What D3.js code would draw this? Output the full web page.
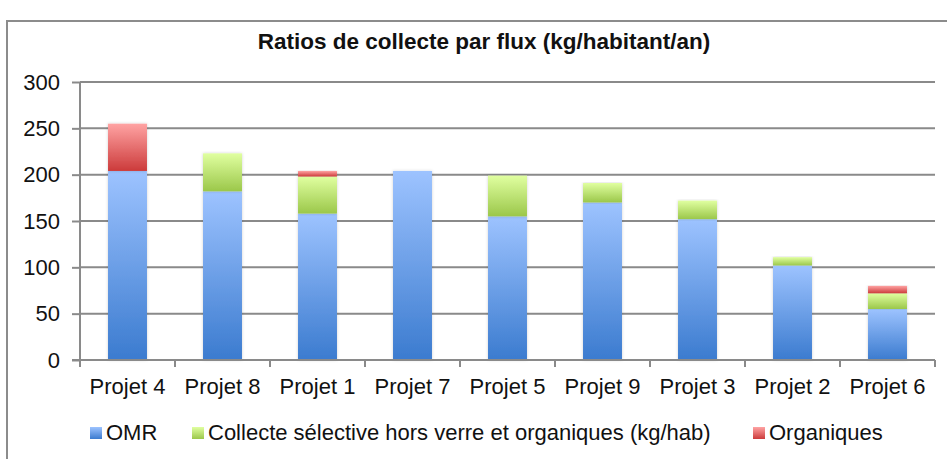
<!DOCTYPE html>
<html>
<head>
<meta charset="utf-8">
<title>Ratios de collecte par flux</title>
<script src="https://d3js.org/d3.v7.min.js"></script>
<style>
  body { margin: 0; background: #fff; }
  svg { display: block; font-family: "Liberation Sans", Arial, sans-serif; }
  .grid line { stroke: #8a8a8a; stroke-width: 2px; }
  .axis path, .axis line { stroke: #8a8a8a; stroke-width: 2px; }
  .axis text { fill: #111; font-size: 22px; }
</style>
</head>
<body>
<script>
// categories and series (kg/habitant/an)
var categories = ["Projet 4", "Projet 8", "Projet 1", "Projet 7", "Projet 5", "Projet 9", "Projet 3", "Projet 2", "Projet 6"];
var omr        = [204, 182, 158, 204, 155, 170, 152, 102, 55];
var collecte   = [0, 41, 40, 0, 44, 21, 20, 9, 17];
var organiques = [51, 0, 6, 0, 0, 0, 0, 0, 8];
var seriesNames = ["OMR", "Collecte sélective hors verre et organiques (kg/hab)", "Organiques"];
var yTicks = [0, 50, 100, 150, 200, 250, 300];

var width = 947, height = 459;
var margin = {top: 82, right: 12, bottom: 99, left: 80};

var svg = d3.select("body").append("svg")
    .attr("width", width)
    .attr("height", height);

// gradients like the office chart fills
var fills = [
  {id: "gBlue", top: "#9dc3ff", bottom: "#3b7bcf"},
  {id: "gGreen", top: "#e0ffa0", bottom: "#9bc74a"},
  {id: "gRed", top: "#ffa3a3", bottom: "#cc3b3b"}
];
var defs = svg.append("defs");
fills.forEach(function(f) {
  var g = defs.append("linearGradient").attr("id", f.id)
      .attr("x1", 0).attr("y1", 0).attr("x2", 0).attr("y2", 1);
  g.append("stop").attr("offset", "0%").attr("stop-color", f.top);
  g.append("stop").attr("offset", "100%").attr("stop-color", f.bottom);
});
var shadow = defs.append("filter").attr("id", "shadow")
    .attr("x", "-20%").attr("y", "-5%").attr("width", "140%").attr("height", "110%");
shadow.append("feDropShadow").attr("dx", 0).attr("dy", 0).attr("stdDeviation", 1.5)
    .attr("flood-color", "#000").attr("flood-opacity", 0.18);

// outer frame
svg.append("rect")
    .attr("x", 7).attr("y", 21)
    .attr("width", width + 20).attr("height", height + 20)
    .attr("fill", "none").attr("stroke", "#8c8c8c").attr("stroke-width", 2);

// title
svg.append("text")
    .attr("x", 484).attr("y", 49)
    .attr("text-anchor", "middle")
    .style("font-size", "22.5px").style("font-weight", "bold").style("fill", "#111")
    .text("Ratios de collecte par flux (kg/habitant/an)");

var x = d3.scaleBand().domain(categories)
    .range([margin.left, width - margin.right])
    .paddingInner(0.59).paddingOuter(0.295);
var y = d3.scaleLinear().domain([0, 300]).range([height - margin.bottom, margin.top]);

// horizontal gridlines
svg.append("g").attr("class", "grid")
  .selectAll("line").data(yTicks.slice(1)).enter().append("line")
    .attr("x1", margin.left).attr("x2", width - margin.right)
    .attr("y1", function(d) { return y(d); }).attr("y2", function(d) { return y(d); });

// stacked data
var table = categories.map(function(c, i) {
  return {cat: c, omr: omr[i], collecte: collecte[i], organiques: organiques[i]};
});
var keys = ["omr", "collecte", "organiques"];
var stacked = d3.stack().keys(keys)(table);

svg.append("g").selectAll("g").data(stacked).enter().append("g")
    .attr("fill", function(d, i) { return "url(#" + fills[i].id + ")"; })
  .selectAll("rect").data(function(d) { return d.filter(function(p) { return p[1] > p[0]; }); })
  .enter().append("rect")
    .attr("filter", "url(#shadow)")
    .attr("x", function(d) { return x(d.data.cat); })
    .attr("width", x.bandwidth())
    .attr("y", function(d) { return y(d[1]); })
    .attr("height", function(d) { return y(d[0]) - y(d[1]); });

// y axis
var yAxis = svg.append("g").attr("class", "axis")
    .attr("transform", "translate(" + margin.left + ",0)")
    .call(d3.axisLeft(y).tickValues(yTicks).tickSize(8).tickPadding(12).tickSizeOuter(0));
yAxis.select(".domain").attr("d", "M0," + y(0) + "V" + y(300));

// x axis with ticks between categories
var step = x.step();
var xAxis = svg.append("g").attr("class", "axis")
    .attr("transform", "translate(0," + y(0) + ")");
xAxis.append("line")
    .attr("x1", margin.left - 8).attr("x2", width - margin.right);
xAxis.selectAll(".sep").data(d3.range(categories.length + 1)).enter().append("line")
    .attr("class", "sep")
    .attr("x1", function(i) { return margin.left + i * step; })
    .attr("x2", function(i) { return margin.left + i * step; })
    .attr("y1", 0).attr("y2", 7);
xAxis.selectAll("text").data(categories).enter().append("text")
    .attr("x", function(d) { return x(d) + x.bandwidth() / 2; })
    .attr("y", 34)
    .attr("text-anchor", "middle")
    .text(function(d) { return d; });

// legend
var legendX = [90, 192, 753];
var legend = svg.append("g").attr("transform", "translate(0,427)");
seriesNames.forEach(function(name, i) {
  legend.append("rect")
      .attr("x", legendX[i]).attr("y", 0)
      .attr("width", 12).attr("height", 12)
      .attr("fill", "url(#" + fills[i].id + ")");
  legend.append("text")
      .attr("x", legendX[i] + 16).attr("y", 13)
      .style("font-size", "22px").style("fill", "#111")
      .text(name);
});
</script>
</body>
</html>
